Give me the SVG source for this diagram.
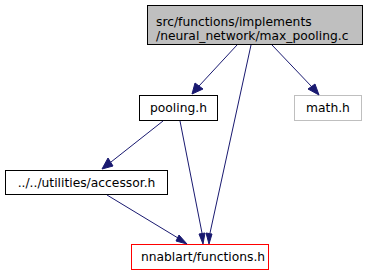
<svg xmlns="http://www.w3.org/2000/svg" width="371" height="276" viewBox="0 0 371 276">
  <style>
    .box { fill: #ffffff; stroke: #000000; stroke-width: 1; }
    .gray { fill: #ffffff; stroke: #bfbfbf; }
    .red { fill: #ffffff; stroke: #ff0000; }
    .cur { fill: #bfbfbf; stroke: #000000; }
    text { font-family: "DejaVu Sans", sans-serif; font-size: 12.3px; fill: #000000; }
    .edge { fill: none; stroke: #191970; stroke-width: 1; }
    .head { fill: #191970; stroke: #191970; }
  </style>
  <rect width="371" height="276" fill="#ffffff"/>

  <g id="node-max_pooling">
    <rect class="cur" x="147.5" y="5.5" width="215" height="39"/>
    <text x="156" y="25.5">src/functions/implements</text>
    <text x="156" y="39.5">/neural_network/max_pooling.c</text>
  </g>
  <g id="node-pooling">
    <rect class="box" x="139.5" y="95.5" width="78" height="25"/>
    <text x="178.5" y="112" text-anchor="middle">pooling.h</text>
  </g>
  <g id="node-math">
    <rect class="gray" x="294.5" y="95.5" width="67" height="25"/>
    <text x="328" y="112" text-anchor="middle">math.h</text>
  </g>
  <g id="node-accessor">
    <rect class="box" x="5.5" y="170.5" width="162" height="24"/>
    <text x="86.5" y="186.5" text-anchor="middle">../../utilities/accessor.h</text>
  </g>
  <g id="node-functions">
    <rect class="red" x="131.5" y="244.5" width="137" height="25"/>
    <text x="203" y="260.5" text-anchor="middle">nnablart/functions.h</text>
  </g>

  <g id="edges">
    <!-- max_pooling.c -> pooling.h -->
    <path class="edge" d="M237,45 L199,86"/>
    <polygon class="head" points="195,83 192,94 203,89"/>
    <!-- max_pooling.c -> functions.h -->
    <path class="edge" d="M251,45 L210,233"/>
    <polygon class="head" points="206,233 209,244 212,234"/>
    <!-- max_pooling.c -> math.h -->
    <path class="edge" d="M272,45 L312,87"/>
    <polygon class="head" points="308,89 319,95 315,84"/>
    <!-- pooling.h -> accessor.h -->
    <path class="edge" d="M163,121 L111,162"/>
    <polygon class="head" points="108,158 102,169 113,166"/>
    <!-- pooling.h -> functions.h -->
    <path class="edge" d="M180,121 L202,233"/>
    <polygon class="head" points="199,234 203,244 205,233"/>
    <!-- accessor.h -> functions.h -->
    <path class="edge" d="M107,195 L178,238"/>
    <polygon class="head" points="176,241 187,244 179,235"/>
  </g>
</svg>
